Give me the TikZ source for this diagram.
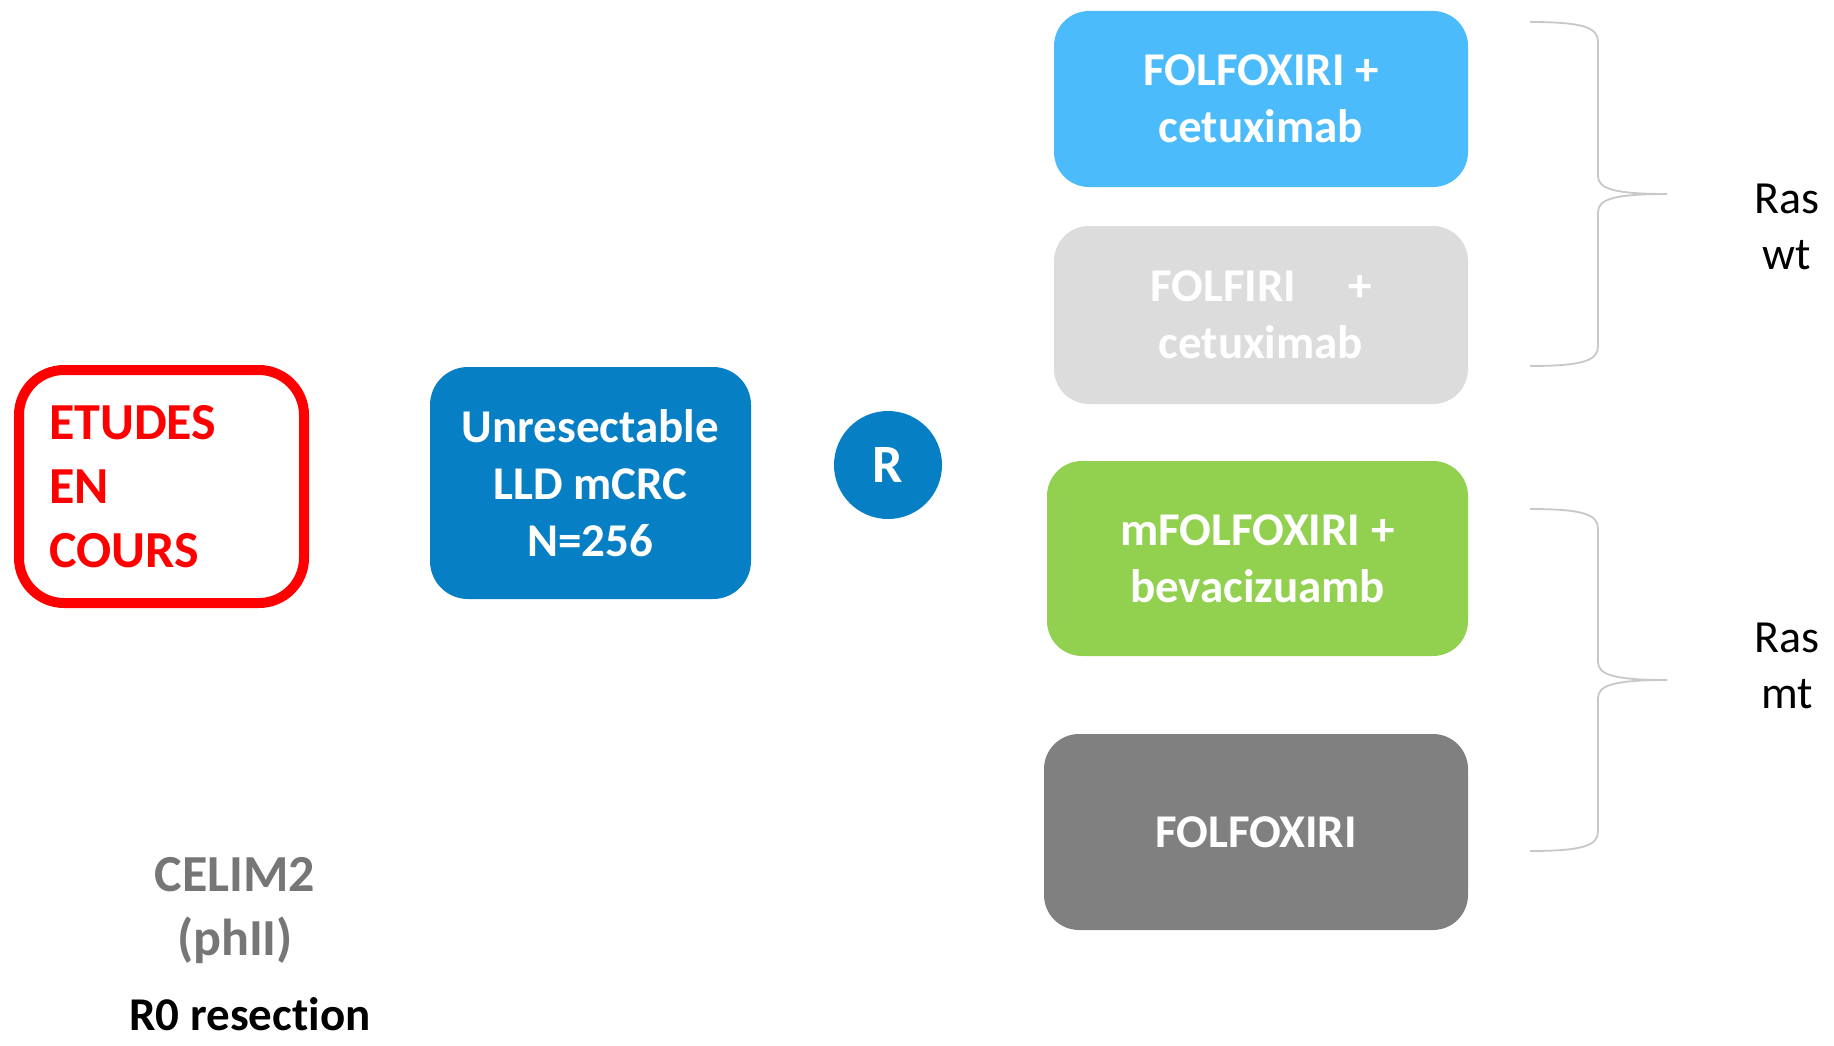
\documentclass[tikz,border=0pt]{standalone}
\usepackage{fontspec}
\setmainfont{Carlito}[Ligatures=NoCommon]
\definecolor{redc}{RGB}{255,0,0}
\definecolor{bluec}{RGB}{7,127,196}
\definecolor{cyanc}{RGB}{75,187,252}
\definecolor{lgreyc}{RGB}{220,220,220}
\definecolor{greenc}{RGB}{146,208,80}
\definecolor{dgreyc}{RGB}{128,128,128}
\definecolor{txtgrey}{RGB}{118,118,118}
\definecolor{bracec}{RGB}{200,200,200}
\begin{document}
\begin{tikzpicture}[x=1pt,y=-1pt,
  armbox/.style={draw=none, rounded corners=35pt, inner sep=0pt, align=center, text=white,
    font=\fontsize{47}{57}\selectfont\bfseries},
  bracestyle/.style={draw=bracec, line width=1.8pt},
  raslabel/.style={align=center, font=\fontsize{46}{56}\selectfont, text=black}]
\useasboundingbox[fill=white] (0,0) rectangle (1834,1046);

% left red box
\node[draw=redc, line width=10pt, rounded corners=45pt, minimum width=285pt, minimum height=233pt,
  text width=225pt, align=left, inner sep=0pt, text=redc,
  font=\fontsize{52}{64}\selectfont\bfseries] (etudes) at (161.5,486.5) {ETUDES\\EN\\COURS};

% population box
\node[armbox, fill=bluec, rounded corners=38pt, minimum width=321pt, minimum height=232pt] (pop) at (590.5,483)
  {Unresectable\\LLD mCRC\\N=256};

% randomisation circle
\node[circle, fill=bluec, minimum size=108pt, inner sep=0pt, text=white,
  font=\fontsize{54}{60}\selectfont\bfseries] (rand) at (888,465) {R};

% arms
\node[armbox, fill=cyanc, minimum width=414pt, minimum height=176pt] (arm1) at (1261,99)
  {FOLFOXIRI +\\cetuximab};
\node[armbox, fill=lgreyc, minimum width=414pt, minimum height=178pt] (arm2) at (1261,315)
  {FOLFIRI\hspace{52pt}+\\cetuximab};
\node[armbox, fill=greenc, minimum width=421pt, minimum height=195pt] (arm3) at (1257.5,558.5)
  {mFOLFOXIRI +\\bevacizuamb};
\node[armbox, fill=dgreyc, minimum width=424pt, minimum height=196pt] (arm4) at (1256,832)
  {FOLFOXIRI};

% braces
\coordinate (b1top) at (1530,22);
\coordinate (b1tip) at (1667,194);
\coordinate (b1bot) at (1530,366);
\draw[bracestyle] (b1top) .. controls (1585,22) and (1598,28) .. (1598,42) -- (1598,176)
  .. controls (1598,189) and (1615,194) .. (b1tip);
\draw[bracestyle] (b1tip) .. controls (1615,194) and (1598,199) .. (1598,212) -- (1598,346)
  .. controls (1598,360) and (1585,366) .. (b1bot);

\coordinate (b2top) at (1530,509);
\coordinate (b2tip) at (1667,680);
\coordinate (b2bot) at (1530,851);
\draw[bracestyle] (b2top) .. controls (1585,509) and (1598,515) .. (1598,529) -- (1598,662)
  .. controls (1598,675) and (1615,680) .. (b2tip);
\draw[bracestyle] (b2tip) .. controls (1615,680) and (1598,685) .. (1598,698) -- (1598,831)
  .. controls (1598,845) and (1585,851) .. (b2bot);

\node[raslabel] (raswt) at (1787,227) {Ras\\wt};
\node[raslabel] (rasmt) at (1787,665.5) {Ras\\mt};

% study label
\node[align=center, text=txtgrey, font=\fontsize{52}{64}\selectfont\bfseries] (celim) at (235,911)
  {CELIM2\\(phII)};
\node[text=black, inner sep=0pt, font=\fontsize{47}{57}\selectfont\bfseries] (r0) at (250,1014) {R0 resection};
\end{tikzpicture}
\end{document}
